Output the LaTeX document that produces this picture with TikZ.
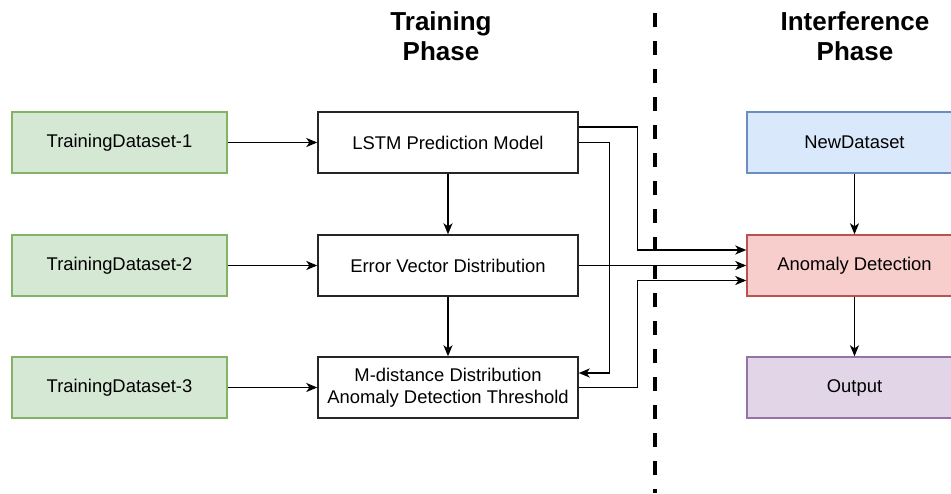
\documentclass[tikz,border=0pt]{standalone}
\usepackage{fontspec}
\setmainfont{Liberation Sans}
\usetikzlibrary{arrows.meta}
\definecolor{gfill}{HTML}{D5E8D4}\definecolor{gline}{HTML}{82B366}
\definecolor{bfill}{HTML}{DAE8FC}\definecolor{bline}{HTML}{6C8EBF}
\definecolor{rfill}{HTML}{F8CECC}\definecolor{rline}{HTML}{B85450}
\definecolor{pfill}{HTML}{E1D5E7}\definecolor{pline}{HTML}{9673A6}
\begin{document}
\begin{tikzpicture}[x=1pt,y=-1pt,
  box/.style={draw, line width=1.4pt, minimum height=61pt, align=center, inner sep=0pt,
    font=\fontsize{18.4}{22}\selectfont},
  greenbox/.style={box, fill=gfill, draw=gline, minimum width=215pt},
  midbox/.style={box, fill=white, draw=black!85, minimum width=260pt},
  bluebox/.style={box, fill=bfill, draw=bline, minimum width=215pt},
  redbox/.style={box, fill=rfill, draw=rline, minimum width=215pt},
  purplebox/.style={box, fill=pfill, draw=pline, minimum width=215pt},
  title/.style={align=center, font=\bfseries\fontsize{26}{30}\selectfont},
  conn/.style={line width=1.5pt, -{Stealth[length=11pt,width=9pt,inset=3pt]}}]
\useasboundingbox (0,0) rectangle (951,493);
\node[title] (t1) at (441,36) {Training\\Phase};
\node[title] (t2) at (855,36) {Interference\\Phase};
\coordinate (dtop) at (655,13);
\coordinate (dbot) at (655,493);
\draw[line width=4pt, dash pattern=on 14pt off 14pt] (dtop) -- (dbot);

\node[greenbox] (g1) at (119.5,142.5) {TrainingDataset-1};
\node[greenbox] (g2) at (119.5,265.5) {TrainingDataset-2};
\node[greenbox] (g3) at (119.5,387.5) {TrainingDataset-3};
\node[midbox] (lstm) at (448,142.5) {LSTM Prediction Model};
\node[midbox] (err) at (448,265.5) {Error Vector Distribution};
\node[midbox] (md) at (448,387.5) {M-distance Distribution\\Anomaly Detection Threshold};
\node[bluebox] (nd) at (854.5,142.5) {NewDataset};
\node[redbox] (ad) at (854.5,265.5) {Anomaly Detection};
\node[purplebox] (out) at (854.5,387.5) {Output};

\draw[conn] (g1) -- (lstm);
\draw[conn] (g2) -- (err);
\draw[conn] (g3) -- (md);
\draw[conn] (lstm) -- (err);
\draw[conn] (err) -- (md);
\draw[conn] (nd) -- (ad);
\draw[conn] (ad) -- (out);
\draw[conn] ([yshift=15.5pt]lstm.east) -- ++(59,0) |- ([yshift=15.5pt]ad.west);
\draw[conn] (lstm.east) -- ++(31,0) |- ([yshift=14.5pt]md.east);
\draw[conn] (err) -- (ad);
\draw[conn] (md.east) -- ++(59,0) |- ([yshift=-15pt]ad.west);
\end{tikzpicture}
\end{document}
